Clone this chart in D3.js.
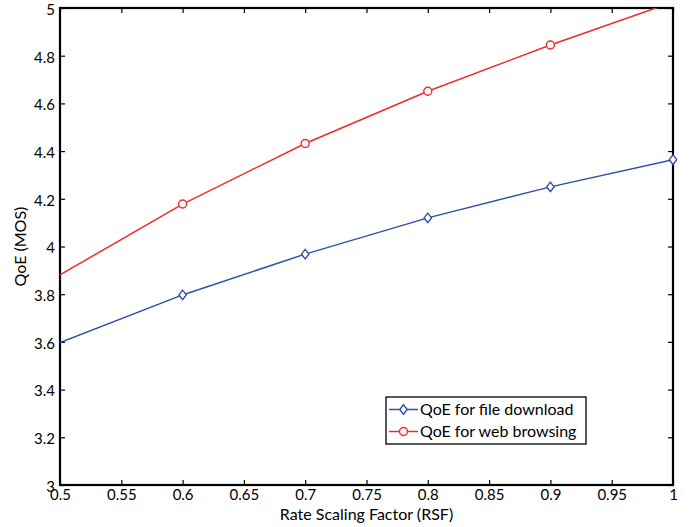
<!DOCTYPE html>
<html>
<head>
<meta charset="utf-8">
<script src="https://cdn.jsdelivr.net/npm/d3@7"></script>
<style>
  body { margin: 0; background: #fff; }
  text { font-family: Lato, "Open Sans", sans-serif; fill: #000; }
</style>
</head>
<body>
<svg id="chart" width="694" height="527"></svg>
<script>
// Rate scaling factor (x) and QoE in MOS for the two services
const rsf = [0.5, 0.6, 0.7, 0.8, 0.9, 1.0];
const qoeFileDownload = [3.597, 3.797, 3.968, 4.12, 4.25, 4.364];
const qoeWebBrowsing = [3.881, 4.178, 4.432, 4.651, 4.845, 5.025];
const xTicks = [0.5, 0.55, 0.6, 0.65, 0.7, 0.75, 0.8, 0.85, 0.9, 0.95, 1];
const yTicks = [3, 3.2, 3.4, 3.6, 3.8, 4, 4.2, 4.4, 4.6, 4.8, 5];
const seriesNames = ["QoE for file download", "QoE for web browsing"];

const svg = d3.select("#chart");
const pL = 60, pR = 673, pT = 8, pB = 485;

const x = d3.scaleLinear().domain([0.5, 1]).range([pL, pR]);
const y = d3.scaleLinear().domain([3, 5]).range([pB, pT]);

const fmt = d => String(+d.toFixed(2));

// clip region for the data
svg.append("defs").append("clipPath").attr("id", "plotclip")
  .append("rect").attr("x", pL).attr("y", pT)
  .attr("width", pR - pL).attr("height", pB - pT);

// axes with inward ticks
const tick = 5;
svg.append("g").attr("transform", `translate(0,${pB})`)
  .call(d3.axisBottom(x).tickValues(xTicks).tickFormat(fmt).tickSize(-tick).tickPadding(4))
  .call(g => g.select(".domain").remove())
  .call(g => g.selectAll("text").attr("font-size", 15).attr("dy", "0.75em"));
svg.append("g").attr("transform", `translate(0,${pT})`)
  .call(d3.axisTop(x).tickValues(xTicks).tickFormat("").tickSize(-tick))
  .call(g => g.select(".domain").remove());
svg.append("g").attr("transform", `translate(${pL},0)`)
  .call(d3.axisLeft(y).tickValues(yTicks).tickFormat(fmt).tickSize(-tick).tickPadding(5))
  .call(g => g.select(".domain").remove())
  .call(g => g.selectAll("text").attr("font-size", 15).attr("dy", "0.42em"));
svg.append("g").attr("transform", `translate(${pR},0)`)
  .call(d3.axisRight(y).tickValues(yTicks).tickFormat("").tickSize(-tick))
  .call(g => g.select(".domain").remove());
svg.selectAll(".tick line").attr("stroke", "#000").attr("stroke-width", 1.2);

// plot box
svg.append("rect").attr("x", pL).attr("y", pT)
  .attr("width", pR - pL).attr("height", pB - pT)
  .attr("fill", "none").attr("stroke", "#000").attr("stroke-width", 2.2);

const line = d3.line().x((d, i) => x(rsf[i])).y(d => y(d));
const plot = svg.append("g").attr("clip-path", "url(#plotclip)");

const blue = "#2f4fa8", red = "#ee2a2a";
const diamondPath = "M0,-4.8L3.7,0L0,4.8L-3.7,0Z";

function drawMarker(g, kind, cx, cy, color) {
  if (kind === "diamond") {
    g.append("path").attr("d", diamondPath).attr("transform", `translate(${cx},${cy})`)
      .attr("fill", "#fff").attr("stroke", color).attr("stroke-width", 1.4);
  } else {
    g.append("circle").attr("cx", cx).attr("cy", cy).attr("r", 4)
      .attr("fill", "#fff").attr("stroke", color).attr("stroke-width", 1.4);
  }
}

plot.append("path").datum(qoeWebBrowsing).attr("d", line)
  .attr("fill", "none").attr("stroke", red).attr("stroke-width", 1.5);
plot.append("path").datum(qoeFileDownload).attr("d", line)
  .attr("fill", "none").attr("stroke", blue).attr("stroke-width", 1.5);

// markers (drawn unclipped so edge markers show in full, except those past the top)
const markers = svg.append("g");
qoeFileDownload.forEach((v, i) => { if (i > 0) drawMarker(markers, "diamond", x(rsf[i]), y(v), blue); });
qoeWebBrowsing.forEach((v, i) => { if (i > 0 && v <= 5) drawMarker(markers, "circle", x(rsf[i]), y(v), red); });

// legend
const lg = svg.append("g");
lg.append("rect").attr("x", 386).attr("y", 397).attr("width", 200).attr("height", 47)
  .attr("fill", "#fff").attr("stroke", "#000").attr("stroke-width", 1.3);
[[blue, "diamond"], [red, "circle"]].forEach(([c, k], i) => {
  const yy = 409.5 + i * 22;
  lg.append("line").attr("x1", 389).attr("x2", 418).attr("y1", yy).attr("y2", yy)
    .attr("stroke", c).attr("stroke-width", 1.5);
  drawMarker(lg, k, 403.5, yy, c);
  lg.append("text").attr("x", 420).attr("y", yy).attr("dy", "0.36em")
    .attr("font-size", 16).text(seriesNames[i]);
});

// axis titles
svg.append("text").attr("x", (pL + pR) / 2).attr("y", 520)
  .attr("text-anchor", "middle").attr("font-size", 16).text("Rate Scaling Factor (RSF)");
svg.append("text").attr("transform", `translate(26,${(pT + pB) / 2}) rotate(-90)`)
  .attr("text-anchor", "middle").attr("font-size", 16).text("QoE (MOS)");
</script>
</body>
</html>
